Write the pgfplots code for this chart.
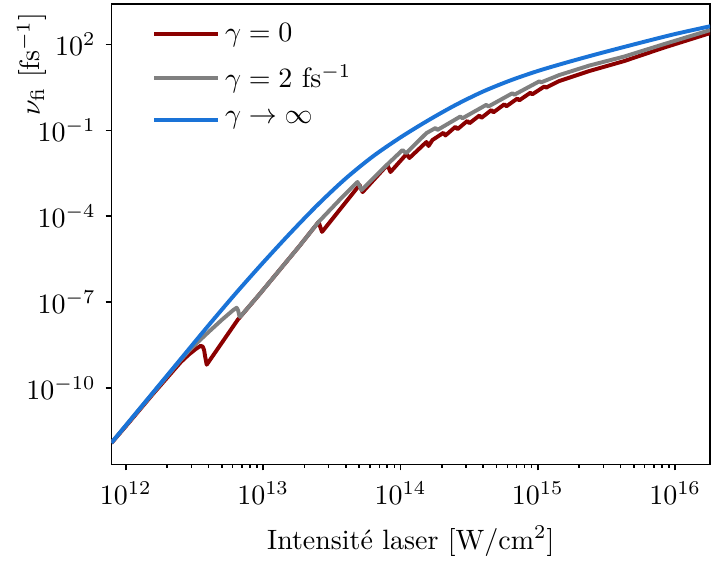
\documentclass[border=0pt]{standalone}
\usepackage{pgfplots}
\pgfplotsset{compat=1.18}
\definecolor{cred}{RGB}{139,0,0}
\definecolor{cgray}{RGB}{128,128,128}
\definecolor{cblue}{RGB}{26,115,215}
\begin{document}
\begin{tikzpicture}
\begin{axis}[
  scale only axis,
  width=214pt, height=164.6pt,
  xmode=log, ymode=log,
  xmin=7.85e11, xmax=1.8e16,
  ymin=2.09e-13, ymax=2.57e3,
  xtick={1e12,1e13,1e14,1e15,1e16},
  ytick={1e-10,1e-7,1e-4,1e-1,1e2},
  yminorticks=false,
  tick align=outside,
  xtick pos=bottom, ytick pos=left,
  major tick length=2.1pt, minor tick length=1.2pt,
  every tick/.style={black, line width=0.5pt},
  axis line style={line width=0.6pt},
  clip mode=individual,
  xticklabel style={yshift=-0.6pt},
  xlabel={Intensité laser [W/cm$^2$]},
  xlabel style={yshift=-0.8pt},
  ylabel={$\nu_{\mathrm{fi}}$ [fs$^{-1}$]},
  ylabel style={at={(axis description cs:-0.1326,0.87)}, anchor=center},
  legend style={at={(axis description cs:0.0675,0.972)}, anchor=north west, draw=none, fill=none, row sep=3pt, inner sep=0pt},
  legend cell align=left,
  legend image code/.code={\draw[#1] (0pt,0pt) -- (22.6pt,0pt);},
  every axis plot/.append style={line width=1.4pt, line join=round},
]
\addplot[cred] coordinates {
(7.85e11,1.175e-12) (1e12,4.571e-12) (1.585e12,6.310e-11) (2.512e12,7.943e-10)
(2.884e12,1.479e-9) (3.236e12,2.291e-9) (3.508e12,2.951e-9) (3.631e12,2.754e-9)
(3.715e12,2.089e-9) (3.784e12,1.202e-9) (3.882e12,6.457e-10)
(6.531e12,2.399e-8) (9.44e12,1.905e-7) (1.318e13,1.318e-6) (1.841e13,9.120e-6)
(2.535e13,6.310e-5) (2.618e13,3.890e-5) (2.685e13,2.818e-5)
(5.035e13,1.230e-3) (5.152e13,9.120e-4) (5.297e13,6.918e-4)
(8.035e13,6.166e-3) (8.453e13,3.467e-3)
(1.107e14,1.479e-2) (1.161e14,1.072e-2)
(1.545e14,3.890e-2) (1.600e14,2.818e-2)
(1.710e14,4.571e-2) (2.056e14,8.147e-2) (2.123e14,6.561e-2)
(2.512e14,1.318e-1) (2.600e14,1.089e-1)
(3.069e14,2.118e-1) (3.177e14,1.750e-1)
(3.758e14,3.273e-1) (3.882e14,2.698e-1)
(4.592e14,5.093e-1) (4.742e14,4.198e-1)
(5.702e14,8.054e-1) (5.902e14,6.855e-1)
(7.096e14,1.282) (7.328e14,1.109)
(8.810e14,2.028) (9.120e14,1.799)
(1.114e15,3.365) (1.153e15,3.105)
(1.432e15,5.236) (2.371e15,11.70) (4.256e15,26.12) (8.318e15,77.27) (1.80e16,247.7)
};
\addlegendentry{$\gamma = 0$}
\addplot[cgray] coordinates {
(7.85e11,1.202e-12) (1e12,4.786e-12) (1.585e12,6.761e-11) (2.512e12,9.550e-10)
(2.917e12,2.138e-9) (3.981e12,8.710e-9) (5.012e12,2.399e-8) (6.026e12,5.129e-8)
(6.412e12,6.310e-8) (6.577e12,5.012e-8) (6.683e12,3.548e-8) (6.792e12,3.020e-8)
(9.44e12,1.905e-7) (1.318e13,1.318e-6) (1.841e13,9.120e-6) (2.535e13,6.310e-5)
(3.597e13,3.673e-4) (4.864e13,1.563e-3) (5.035e13,1.132e-3) (5.200e13,8.128e-4)
(8.035e13,6.457e-3) (1.035e14,2.042e-2) (1.072e14,1.738e-2) (1.099e14,1.585e-2)
(1.545e14,7.943e-2) (1.799e14,1.199e-1) (1.858e14,1.021e-1)
(2.729e14,3.020e-1) (2.825e14,2.612e-1)
(4.217e14,7.727e-1) (4.365e14,6.745e-1)
(6.531e14,1.963) (6.745e14,1.742)
(1.026e15,5.117) (1.059e15,4.721)
(1.432e15,8.472) (2.371e15,18.20) (4.256e15,37.50) (8.318e15,102.3) (1.80e16,315.5)
};
\addlegendentry{$\gamma = 2$ fs$^{-1}$}
\addplot[cblue, smooth] coordinates {
(7.85e11,1.202e-12) (1e12,4.898e-12) (1.585e12,7.079e-11) (2.512e12,1.023e-9)
(3.981e12,1.479e-8) (6.310e12,1.995e-7) (1e13,2.399e-6) (1.585e13,2.630e-5)
(2.512e13,2.570e-4) (3.981e13,2.042e-3) (6.310e13,1.230e-2) (1e14,5.623e-2)
(1.585e14,2.188e-1) (2.512e14,7.586e-1) (3.981e14,2.239) (6.310e14,5.495)
(1e15,11.75) (1.585e15,22.59) (2.512e15,41.69) (3.981e15,74.82)
(6.310e15,132.4) (1e16,230.0) (1.80e16,430.0)
};
\addlegendentry{$\gamma \rightarrow \infty$}
\path (axis description cs:-0.186,0.5);
\path (axis description cs:0.5,-0.197);
\path (axis description cs:0.5,1.0087);
\end{axis}
\end{tikzpicture}
\end{document}
